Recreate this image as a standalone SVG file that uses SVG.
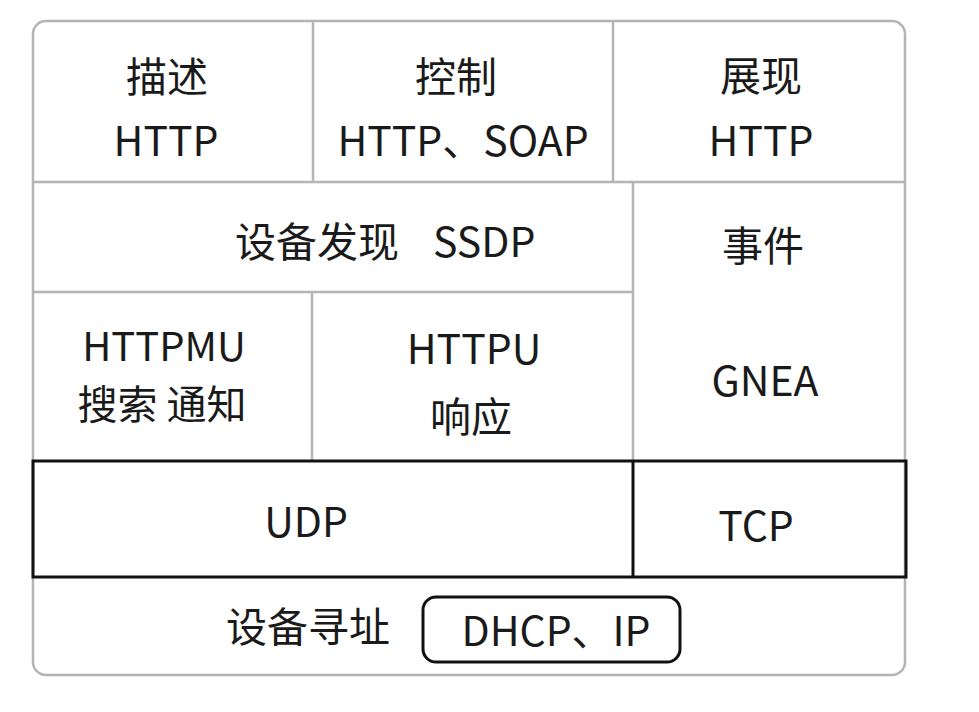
<svg xmlns="http://www.w3.org/2000/svg" width="979" height="712" viewBox="0 0 979 712">
  <style>
    .frame { fill: none; stroke: #b4b4b4; stroke-width: 2.5; }
    .grid { stroke: #b4b4b4; stroke-width: 2.5; fill: none; }
    .bold { fill: none; stroke: #111; stroke-width: 3; }
    .t { font-family: "Noto Sans CJK SC", "Noto Sans", sans-serif; font-size: 41px; fill: #1a1a1a; text-anchor: middle; }
    .ts { text-anchor: start; }
    .sm { font-size: 40px; }
  </style>
  <rect width="979" height="712" fill="#ffffff"/>

  <!-- outer frame and cell dividers -->
  <g id="connectors">
    <rect class="frame" x="33" y="21" width="872" height="654" rx="13"/>
    <line class="grid" x1="33" y1="182" x2="905" y2="182"/>
    <line class="grid" x1="313" y1="21" x2="313" y2="182"/>
    <line class="grid" x1="613" y1="21" x2="613" y2="182"/>
    <line class="grid" x1="633" y1="182" x2="633" y2="461"/>
    <line class="grid" x1="33" y1="292" x2="633" y2="292"/>
    <line class="grid" x1="312" y1="292" x2="312" y2="461"/>
  </g>

  <g id="describe">
    <text class="t" x="167" y="92">描述</text>
    <text class="t" x="166" y="156">HTTP</text>
  </g>
  <g id="control">
    <text class="t" x="456" y="92">控制</text>
    <text class="t" x="463" y="156">HTTP、SOAP</text>
  </g>
  <g id="present">
    <text class="t" x="761" y="91">展现</text>
    <text class="t" x="761" y="156">HTTP</text>
  </g>
  <g id="discovery">
    <text class="t ts" x="235" y="257">设备发现</text>
    <text class="t ts" x="433" y="257">SSDP</text>
  </g>
  <g id="eventing">
    <text class="t" x="763" y="261">事件</text>
    <text class="t" x="765" y="396">GNEA</text>
  </g>
  <g id="httpmu">
    <text class="t sm" x="164" y="361">HTTPMU</text>
    <text class="t sm" x="162" y="419">搜索 通知</text>
  </g>
  <g id="httpu">
    <text class="t" x="474" y="364">HTTPU</text>
    <text class="t" x="471" y="432">响应</text>
  </g>
  <g id="transport">
    <rect class="bold" x="33" y="461" width="873" height="116"/>
    <line class="bold" x1="633" y1="461" x2="633" y2="577"/>
    <text class="t" x="306" y="537">UDP</text>
    <text class="t" x="756" y="541">TCP</text>
  </g>
  <g id="addressing">
    <text class="t" x="308" y="642">设备寻址</text>
    <rect class="bold" x="423" y="597" width="257" height="65" rx="13"/>
    <text class="t" x="556" y="646">DHCP、IP</text>
  </g>
</svg>
